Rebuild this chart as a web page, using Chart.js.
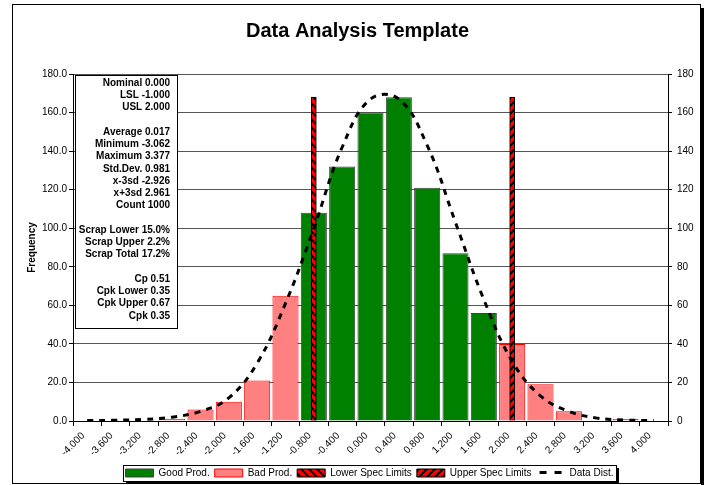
<!DOCTYPE html>
<html>
<head>
<meta charset="utf-8">
<title>Data Analysis Template</title>
<script src="https://cdn.jsdelivr.net/npm/chart.js@4.4.1/dist/chart.umd.min.js"></script>
<style>
  html, body { margin: 0; padding: 0; background: #fff; }
  #wrap { position: relative; width: 707px; height: 485px; }
</style>
</head>
<body>
<div id="wrap"><canvas id="chart"></canvas></div>
<script>
// categorias (centro de cada clase)
const xLabels = ['-4.000','-3.600','-3.200','-2.800','-2.400','-2.000','-1.600','-1.200','-0.800','-0.400',
                 '0.000','0.400','0.800','1.200','1.600','2.000','2.400','2.800','3.200','3.600','4.000'];

// frecuencias
const goodProd  = [null,null,null,null,null,null,null,null,108,132,160,168,121,87,56,null,null,null,null,null,null];
const badProd   = [0,0,0,1,6,10,21,65,null,null,null,null,null,null,null,40,19,5,0,1,0];
const lowerSpec = [null,null,null,null,null,null,null,null,168,null,null,null,null,null,null,null,null,null,null,null,null];
const upperSpec = [null,null,null,null,null,null,null,null,null,null,null,null,null,null,null,168,null,null,null,null,null];
const dataDist  = [0.2,0.4,0.8,2,5,12,30,61,100,142,167,167,143,103,63,31,13,5,1.5,0.5,0.2];

const yMin = 0, yMax = 180, yStep = 20;

// texto del cuadro de estadisticas
const statsLines = [
  'Nominal 0.000', 'LSL -1.000', 'USL 2.000', '',
  'Average 0.017', 'Minimum -3.062', 'Maximum 3.377', 'Std.Dev. 0.981', 'x-3sd -2.926', 'x+3sd 2.961', 'Count 1000', '',
  'Scrap Lower 15.0%', 'Scrap Upper 2.2%', 'Scrap Total 17.2%', '',
  'Cp 0.51', 'Cpk Lower 0.35', 'Cpk Upper 0.67', 'Cpk 0.35'
];

Chart.defaults.font.family = "'Liberation Sans', Arial, sans-serif";
Chart.defaults.color = '#000';

function stripes(bg, fg, dir) {
  const n = 8;
  const c = document.createElement('canvas');
  c.width = n; c.height = n;
  const g = c.getContext('2d');
  g.fillStyle = bg; g.fillRect(0, 0, n, n);
  g.strokeStyle = fg; g.lineWidth = 2;
  g.beginPath();
  if (dir > 0) {
    g.moveTo(-1, n + 1); g.lineTo(n + 1, -1);
    g.moveTo(-1, 1); g.lineTo(1, -1);
    g.moveTo(n - 1, n + 1); g.lineTo(n + 1, n - 1);
  } else {
    g.moveTo(-1, -1); g.lineTo(n + 1, n + 1);
    g.moveTo(n - 1, -1); g.lineTo(n + 1, 1);
    g.moveTo(-1, n - 1); g.lineTo(1, n + 1);
  }
  g.stroke();
  return g.createPattern(c, 'repeat');
}

// simbolo de leyenda para la linea punteada
function dashIcon() {
  const c = document.createElement('canvas');
  c.width = 28; c.height = 4;
  const g = c.getContext('2d');
  g.fillStyle = '#000';
  g.fillRect(3, 0, 7, 3);
  g.fillRect(18, 0, 7, 3);
  return c;
}
const dashImg = dashIcon();

// marco exterior con sombra
const framePlugin = {
  id: 'frame',
  beforeDraw(chart) {
    const { ctx, width, height } = chart;
    ctx.save();
    ctx.fillStyle = '#fff';
    ctx.fillRect(0, 0, width, height);
    ctx.restore();
  },
  afterDraw(chart) {
    const { ctx } = chart;
    ctx.save();
    ctx.strokeStyle = '#000';
    ctx.lineWidth = 1;
    ctx.strokeRect(12.5, 4.5, 688, 479);
    ctx.fillStyle = '#000';
    ctx.fillRect(701, 8, 3, 477);
    ctx.restore();
  }
};

// cuadro de estadisticas sobre el area del grafico
const statsPlugin = {
  id: 'statsBox',
  beforeDatasetsDraw(chart) {
    const { ctx, chartArea } = chart;
    const x = chartArea.left + 2.5, y = chartArea.top + 1.5;
    ctx.save();
    ctx.fillStyle = '#fff';
    ctx.fillRect(x, y, 102, 253);
    ctx.strokeStyle = '#000';
    ctx.lineWidth = 1;
    ctx.strokeRect(x, y, 102, 253);
    ctx.font = "bold 10px 'Liberation Sans', Arial, sans-serif";
    ctx.textAlign = 'right';
    ctx.textBaseline = 'middle';
    ctx.fillStyle = '#000';
    statsLines.forEach((t, i) => {
      if (t) ctx.fillText(t, x + 94.5, y + 7.5 + i * 12.26);
    });
    ctx.restore();
  }
};

// leyenda: ajuste de posicion y recuadro
const legendBoxPlugin = {
  id: 'legendBox',
  afterLayout(chart) {
    const lg = chart.legend;
    if (!lg) return;
    lg.left += 12; lg.right += 12;
    lg.top += 3; lg.bottom += 3;
  },
  afterDraw(chart) {
    const hb = chart.legend?.legendHitBoxes;
    if (!hb || !hb.length) return;
    const { ctx } = chart;
    const lefts = hb.map(h => h.left), rights = hb.map(h => h.left + h.width);
    const l = Math.round(Math.min(...lefts)) - 2.5;
    const r = Math.round(Math.max(...rights)) + 3.5;
    const t = Math.round(hb[0].top) - 2.5;
    const b = Math.round(hb[0].top + hb[0].height) + 3.5;
    ctx.save();
    ctx.strokeStyle = '#000';
    ctx.lineWidth = 1;
    ctx.strokeRect(l, t, r - l, b - t);
    ctx.fillStyle = '#000';
    ctx.fillRect(r + 0.5, t + 2.5, 2, b - t);
    ctx.fillRect(l + 2.5, b + 0.5, r - l, 2);
    ctx.restore();
  }
};

const ctx = document.getElementById('chart').getContext('2d');
new Chart(ctx, {
  type: 'bar',
  data: {
    labels: xLabels,
    datasets: [
      { label: 'Good Prod.', data: goodProd, backgroundColor: '#008000', borderColor: '#404040', borderWidth: 1,
        grouped: false, barPercentage: 0.92, categoryPercentage: 1, order: 3 },
      { label: 'Bad Prod.', data: badProd, backgroundColor: '#FF8080', borderColor: '#FF0000', borderWidth: 1,
        grouped: false, barPercentage: 0.92, categoryPercentage: 1, order: 3 },
      { label: 'Lower Spec Limits', data: lowerSpec, backgroundColor: stripes('#FF0000', '#000', -1), borderColor: '#000',
        borderWidth: 1, grouped: false, barThickness: 5, order: 2 },
      { label: 'Upper Spec Limits', data: upperSpec, backgroundColor: stripes('#FF0000', '#000', 1), borderColor: '#000',
        borderWidth: 1, grouped: false, barThickness: 5, order: 2 },
      { type: 'line', label: 'Data Dist.', data: dataDist, borderColor: '#000', backgroundColor: '#000', borderWidth: 3,
        borderDash: [6, 6], pointRadius: 0, tension: 0.4, fill: false, order: 1 }
    ]
  },
  options: {
    responsive: true,
    maintainAspectRatio: false,
    animation: false,
    devicePixelRatio: 1,
    layout: { padding: { left: 8 } },
    plugins: {
      tooltip: { enabled: false },
      title: {
        display: true,
        text: 'Data Analysis Template',
        color: '#000',
        font: { size: 20, weight: 'bold' },
        padding: { top: 19, bottom: 31 }
      },
      legend: {
        position: 'bottom',
        labels: {
          usePointStyle: true,
          pointStyleWidth: 28,
          boxHeight: 8,
          padding: 5,
          color: '#000',
          font: { size: 10 },
          sort: (a, b) => a.datasetIndex - b.datasetIndex,
          generateLabels(chart) {
            const items = Chart.defaults.plugins.legend.labels.generateLabels(chart);
            items.forEach(it => {
              it.pointStyle = chart.data.datasets[it.datasetIndex].type === 'line' ? dashImg : 'rect';
            });
            return items;
          }
        }
      }
    },
    scales: {
      x: {
        offset: true,
        grid: { offset: true, drawOnChartArea: false, tickLength: 5, color: '#000' },
        border: { color: '#000' },
        ticks: { autoSkip: false, maxRotation: 45, minRotation: 45, padding: 4, labelOffset: -4, font: { size: 10 }, color: '#000' },
        afterFit(s) { s.height = 39; }
      },
      y: {
        position: 'left',
        min: yMin, max: yMax,
        ticks: { stepSize: yStep, padding: 2, font: { size: 10 }, color: '#000', callback: v => Number(v).toFixed(1) },
        grid: { color: '#555', tickColor: '#000', tickLength: 4 },
        border: { color: '#000' },
        title: { display: true, text: 'Frequency', color: '#000', font: { size: 10, weight: 'bold' }, padding: { top: 18, bottom: 0 } },
        afterFit(s) { s.width = 65; }
      },
      y2: {
        position: 'right',
        min: yMin, max: yMax,
        ticks: { stepSize: yStep, padding: 5, font: { size: 10 }, color: '#000' },
        grid: { drawOnChartArea: false, color: '#000', tickLength: 4 },
        border: { color: '#000' },
        afterFit(s) { s.width = 39; }
      }
    }
  },
  plugins: [framePlugin, statsPlugin, legendBoxPlugin]
});
</script>
</body>
</html>
